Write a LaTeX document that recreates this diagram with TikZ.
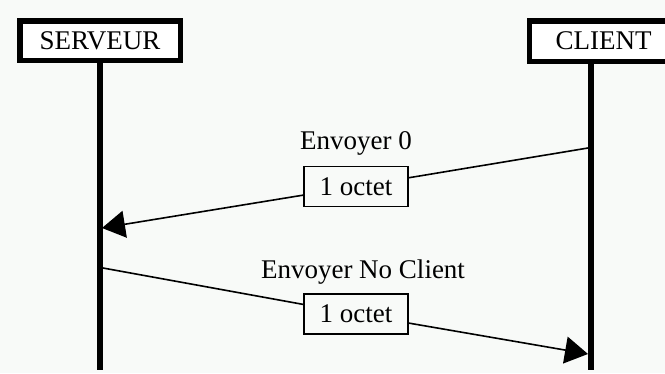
\documentclass[tikz,border=0pt]{standalone}
\usepackage{fontspec}
\setmainfont{Liberation Serif}
\usetikzlibrary{arrows.meta}
\definecolor{bg}{RGB}{248,250,248}
\begin{document}
\begin{tikzpicture}[x=1pt,y=-1pt,
  actor/.style={draw=black,line width=5.5pt,fill=white,inner sep=0pt,
    font=\fontsize{27}{30}\selectfont},
  lifeline/.style={line width=5.5pt},
  msg/.style={line width=1.6pt},
  tip/.style={-{Triangle[length=23pt,width=27pt]}},
  sizebox/.style={draw=black,line width=1.6pt,fill=bg,minimum width=104pt,minimum height=40pt,inner sep=0pt,
    font=\fontsize{27}{30}\selectfont},
  lbl/.style={inner sep=0pt,font=\fontsize{27}{30}\selectfont}]
\useasboundingbox (0,0) rectangle (665,373);
\clip (0,0) rectangle (665,373);
\fill[bg] (0,0) rectangle (665,373);
% actors
\node[actor,minimum width=160.5pt,minimum height=39.5pt] (serveur) at (100,40.5) {SERVEUR};
\node[actor,minimum width=148.5pt,minimum height=40.5pt] (client) at (603.5,41) {CLIENT};
\coordinate (sbot) at (100,370);
\coordinate (cbot) at (591,370);
\draw[lifeline] (serveur.south) -- (sbot);
\draw[lifeline] (cbot |- client.south) -- (cbot);
% message 1
\coordinate (m1s) at (588,148);
\coordinate (m1e) at (102,228);
\node[sizebox] (b1) at (356,186.5) {1 octet};
\node[lbl] (l1) at (356,143) {Envoyer 0};
\draw[msg] (m1s) -- (b1);
\draw[msg,tip] (b1) -- (m1e);
% message 2
\coordinate (m2s) at (103,268);
\coordinate (m2e) at (588,354);
\node[sizebox] (b2) at (356,314) {1 octet};
\node[lbl] (l2) at (363,272) {Envoyer No Client};
\draw[msg] (m2s) -- (b2);
\draw[msg,tip] (b2) -- (m2e);
\end{tikzpicture}
\end{document}
